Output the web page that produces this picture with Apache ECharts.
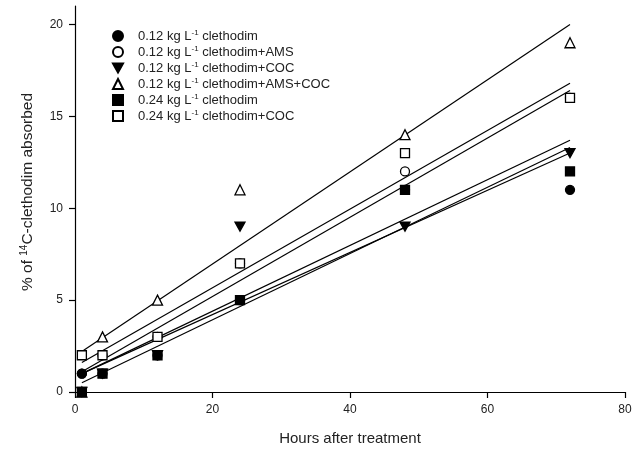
<!DOCTYPE html>
<html>
<head>
<meta charset="utf-8">
<script src="https://cdn.jsdelivr.net/npm/echarts@6/dist/echarts.min.js"></script>
<style>
  html, body { margin: 0; padding: 0; background: #fff; }
  #chart { width: 643px; height: 452px; }
</style>
</head>
<body>
<div id="chart"></div>
<script>
// hours after treatment
var hours = [1, 4, 12, 24, 48, 72];

// % absorbed
var c012 = [1, 1, 2, 5, 11, 11];
var c012AMS = [1, 2, 3, 7, 12, 16];
var c012COC = [0, 1, 2, 9, 9, 13];
var c012AMSCOC = [0, 3, 5, 11, 14, 19];
var c024 = [0, 1, 2, 5, 11, 12];
var c024COC = [2, 2, 3, 7, 13, 16];

// fitted lines: value at first hour and last hour
var fitHours = [1, 72];
var fit012 = [1.0, 13.0];
var fit012AMS = [1.1, 16.4];
var fit012COC = [1.0, 13.7];
var fit012AMSCOC = [2.2, 20.0];
var fit024 = [0.5, 13.3];
var fit024COC = [1.6, 16.8];

var yTicks = [0, 5, 10, 15, 20];

var names = [
  '0.12 kg L-1 clethodim',
  '0.12 kg L-1 clethodim+AMS',
  '0.12 kg L-1 clethodim+COC',
  '0.12 kg L-1 clethodim+AMS+COC',
  '0.24 kg L-1 clethodim',
  '0.24 kg L-1 clethodim+COC'
];
var values = [c012, c012AMS, c012COC, c012AMSCOC, c024, c024COC];
var fits = [fit012, fit012AMS, fit012COC, fit012AMSCOC, fit024, fit024COC];
var invTri = 'path://M0,0L10,0L5,9Z';
var symbols = ['circle', 'circle', invTri, 'triangle', 'rect', 'rect'];
var filled = [true, false, true, false, true, false];
var sizes = [9, 9, 10, 10, 9, 9];
var zs = [5, 3, 4, 3, 4, 3];

function pairs(xs, ys) {
  return xs.map(function (x, i) { return [x, ys[i]]; });
}

var series = [];
fits.forEach(function (f, i) {
  series.push({
    name: 'fit' + i,
    type: 'line',
    data: pairs(fitHours, f),
    symbol: 'none',
    silent: true,
    z: 1,
    lineStyle: { color: '#000', width: 1.2 }
  });
});
values.forEach(function (v, i) {
  series.push({
    name: names[i],
    type: 'scatter',
    data: pairs(hours, v),
    symbol: symbols[i],
    symbolSize: sizes[i],
    symbolKeepAspect: true,
    z: zs[i],
    itemStyle: {
      color: filled[i] ? '#000' : '#fff',
      borderColor: '#000',
      borderWidth: 1.3,
      opacity: 1
    }
  });
});

var chart = echarts.init(document.getElementById('chart'));
chart.setOption({
  backgroundColor: '#fff',
  animation: false,
  textStyle: { fontFamily: 'Arial, "Liberation Sans", sans-serif' },
  grid: { left: 75, right: 18, top: 6, bottom: 60 },
  legend: {
    data: names,
    orient: 'vertical',
    left: 107,
    top: 24,
    itemWidth: 10,
    itemHeight: 10,
    itemGap: 2.5,
    formatter: function (n) { return '{gap|}' + n.replace('L-1', 'L{sup|-1}'); },
    textStyle: {
      fontSize: 13,
      color: '#222',
      rich: {
        gap: { width: 10 },
        sup: { fontSize: 8, color: '#222', padding: [0, 0, 6, 0] }
      }
    }
  },
  xAxis: {
    type: 'value',
    min: 0,
    max: 80,
    interval: 20,
    name: 'Hours after treatment',
    nameLocation: 'middle',
    nameGap: 39,
    nameTextStyle: { fontSize: 15, color: '#222' },
    axisLine: { onZero: false, lineStyle: { color: '#000', width: 1.2 } },
    axisTick: { length: 6, lineStyle: { color: '#000', width: 1.2 } },
    axisLabel: { fontSize: 12, color: '#222', margin: 12 },
    splitLine: { show: false }
  },
  yAxis: {
    type: 'value',
    min: 0,
    max: 21,
    name: '% of {sup|14}C-clethodim absorbed',
    nameLocation: 'middle',
    nameGap: 38,
    nameTextStyle: {
      fontSize: 15.5,
      color: '#222',
      padding: [0, 0, 0, 14],
      rich: { sup: { fontSize: 10, color: '#222', padding: [0, 0, 8, 0] } }
    },
    axisLine: { onZero: false, lineStyle: { color: '#000', width: 1.2 } },
    axisTick: { length: 6, customValues: yTicks, lineStyle: { color: '#000', width: 1.2 } },
    axisLabel: { fontSize: 12, color: '#222', margin: 12, customValues: yTicks },
    splitLine: { show: false }
  },
  series: series
});
</script>
</body>
</html>
